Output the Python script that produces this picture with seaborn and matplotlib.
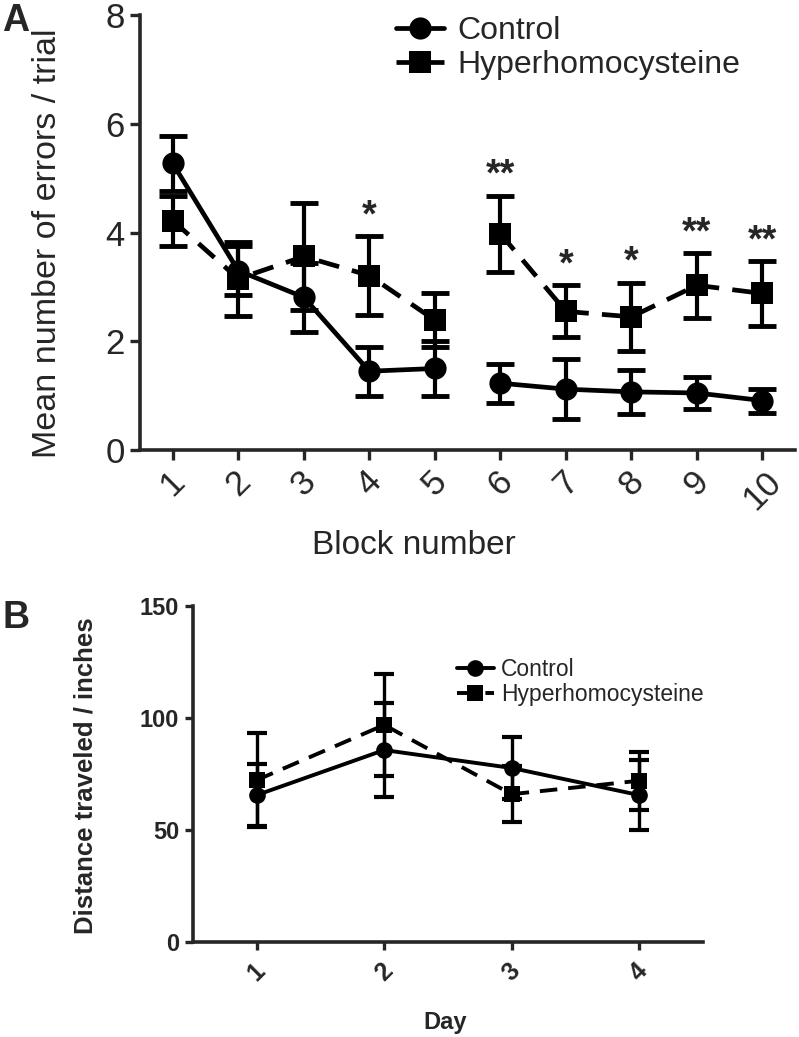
import matplotlib
matplotlib.use("Agg")
import matplotlib.pyplot as plt
import seaborn as sns
import pandas as pd
import numpy as np

sns.set_style("ticks")
plt.rcParams['font.family'] = ['Liberation Sans', 'DejaVu Sans']

# ---- panel A data: radial arm maze errors per block ----
blocks = [1, 2, 3, 4, 5, 6, 7, 8, 9, 10]
ctrl_mean = [5.27, 3.30, 2.81, 1.45, 1.50, 1.23, 1.12, 1.07, 1.05, 0.91]
ctrl_sem = [0.50, 0.45, 0.63, 0.45, 0.50, 0.36, 0.55, 0.40, 0.30, 0.22]
hhcy_mean = [4.22, 3.15, 3.56, 3.21, 2.39, 3.98, 2.55, 2.45, 3.03, 2.88]
hhcy_sem = [0.46, 0.68, 0.98, 0.72, 0.50, 0.70, 0.48, 0.63, 0.60, 0.60]
segment = [0, 0, 0, 0, 0, 1, 1, 1, 1, 1]
stars = {4: "*", 6: "**", 7: "*", 8: "*", 9: "**", 10: "**"}

# ---- panel B data: open field distance ----
days = [1, 2, 3, 4]
ctrl_dist = [65.6, 85.7, 77.7, 65.6]
ctrl_dist_sem = [14.0, 21.0, 14.0, 15.5]
hhcy_dist = [72.3, 96.9, 66.0, 72.0]
hhcy_dist_sem = [21.0, 22.7, 12.4, 13.0]

df_a = pd.DataFrame({
    "block": blocks * 2,
    "mean": ctrl_mean + hhcy_mean,
    "sem": ctrl_sem + hhcy_sem,
    "group": ["Control"] * 10 + ["Hyperhomocysteine"] * 10,
    "segment": segment * 2,
})
df_b = pd.DataFrame({
    "day": days * 2,
    "mean": ctrl_dist + hhcy_dist,
    "sem": ctrl_dist_sem + hhcy_dist_sem,
    "group": ["Control"] * 4 + ["Hyperhomocysteine"] * 4,
})

styles = {
    "Control": dict(marker="o", linestyle="-"),
    "Hyperhomocysteine": dict(marker="s", linestyle=(0, (4.5, 2.8))),
}

fig = plt.figure(figsize=(7.99, 10.37), dpi=100)
ax_a = fig.add_axes([0.1752, 0.566, 0.820, 0.4195])
ax_b = fig.add_axes([0.2416, 0.0916, 0.638, 0.324])

# panel A
for grp, sty in styles.items():
    sub = df_a[df_a["group"] == grp]
    ax_a.errorbar(sub["block"], sub["mean"], yerr=sub["sem"], fmt="none",
                  ecolor="black", elinewidth=3, capsize=10, capthick=3.5, zorder=2)
    for seg, part in sub.groupby("segment"):
        sns.lineplot(data=part, x="block", y="mean", ax=ax_a, color="black",
                     lw=3.4, markersize=16, markeredgewidth=0,
                     label=grp if seg == 0 else None, zorder=3, **sty)

hh = df_a[df_a["group"] == "Hyperhomocysteine"].set_index("block")
for b, s in stars.items():
    top = hh.loc[b, "mean"] + hh.loc[b, "sem"]
    ax_a.text(b, top + 0.03, s, ha="center", va="bottom", fontsize=27,
              fontweight="bold")

ax_a.set_xlim(0.5, 10.5)
ax_a.set_ylim(0, 8)
ax_a.set_yticks([0, 2, 4, 6, 8])
ax_a.set_xticks(blocks)
ax_a.set_xticklabels([str(b) for b in blocks], rotation=45, ha="center")
ax_a.tick_params(labelsize=25, width=2.4, length=7, pad=4)
ax_a.set_xlabel("Block number", fontsize=24)
ax_a.set_ylabel("Mean number of errors / trial", fontsize=24.5)
ax_a.xaxis.set_label_coords(0.418, -0.184)
ax_a.yaxis.set_label_coords(-0.118, 0.476)
ax_a.legend(loc="upper left", bbox_to_anchor=(0.468, 1.006),
            bbox_transform=fig.transFigure, frameon=False, fontsize=23,
            handlelength=1.5, handletextpad=0.4, labelspacing=0.12,
            borderpad=0.2)

# panel B
for grp, sty in styles.items():
    sub = df_b[df_b["group"] == grp]
    ax_b.errorbar(sub["day"], sub["mean"], yerr=sub["sem"], fmt="none",
                  ecolor="black", elinewidth=2.4, capsize=7, capthick=3, zorder=2)
    sns.lineplot(data=sub, x="day", y="mean", ax=ax_b, color="black",
                 lw=2.8, markersize=12, markeredgewidth=0, label=grp,
                 zorder=3, **sty)

ax_b.set_xlim(0.5, 4.5)
ax_b.set_ylim(0, 150)
ax_b.set_yticks([0, 50, 100, 150])
ax_b.set_xticks(days)
ax_b.set_xticklabels([str(d) for d in days], rotation=45, ha="center",
                     fontweight="bold")
for t in ax_b.get_yticklabels():
    t.set_fontweight("bold")
ax_b.tick_params(labelsize=17, width=2.4, length=6, pad=4)
ax_b.tick_params(axis="x", labelsize=18, pad=6)
ax_b.set_xlabel("Day", fontsize=17, fontweight="bold")
ax_b.set_ylabel("Distance traveled / inches", fontsize=18.5, fontweight="bold")
ax_b.xaxis.set_label_coords(0.494, -0.205)
ax_b.yaxis.set_label_coords(-0.188, 0.494)
ax_b.legend(loc="upper left", bbox_to_anchor=(0.552, 0.381),
            bbox_transform=fig.transFigure, frameon=False, fontsize=16.5,
            handlelength=1.6, handletextpad=0.3, labelspacing=0.1,
            borderpad=0.2)

for ax in (ax_a, ax_b):
    sns.despine(ax=ax)
    for sp in ("left", "bottom"):
        ax.spines[sp].set_linewidth(2.6)

fig.text(0.003, 0.997, "A", fontsize=27, fontweight="bold", va="top")
fig.text(0.003, 0.421, "B", fontsize=27, fontweight="bold", va="top")

fig.savefig("out.png", dpi=100)
